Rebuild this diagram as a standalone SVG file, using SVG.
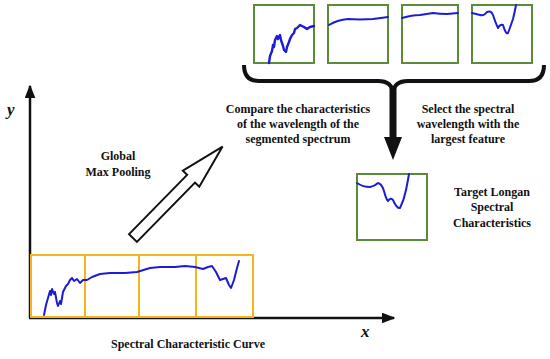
<svg xmlns="http://www.w3.org/2000/svg" width="550" height="359" viewBox="0 0 550 359">
<style>
.t{font-family:"Liberation Serif","DejaVu Serif","Times New Roman",serif;font-weight:bold;font-size:12px;fill:#111;text-anchor:middle}
.ax{font-family:"Liberation Serif","DejaVu Serif","Times New Roman",serif;font-weight:bold;font-style:italic;font-size:17px;fill:#111}
.gbox{fill:#fff;stroke:#5b8a3a;stroke-width:2}
.obox{fill:none;stroke:#f2b51c;stroke-width:2}
.curve{fill:none;stroke:#1c1cd6;stroke-width:2;stroke-linejoin:round;stroke-linecap:round}
.axis{stroke:#111;stroke-width:2.5;fill:none}
</style>
<defs>
<marker id="ah" viewBox="0 0 10 8" refX="9" refY="4" markerWidth="5.5" markerHeight="4.4" orient="auto" markerUnits="strokeWidth">
<path d="M0,0 L10,4 L0,8 z" fill="#111"/>
</marker>
</defs>
<rect width="550" height="359" fill="#fff"/>

<g id="axes">
<line class="axis" x1="30" y1="318" x2="30" y2="86" marker-end="url(#ah)"/>
<line class="axis" x1="29" y1="318" x2="394" y2="318" marker-end="url(#ah)"/>
<text class="ax" x="7" y="115">y</text>
<text class="ax" x="361" y="337">x</text>
</g>

<g id="spectral-curve">
<rect class="obox" x="31" y="255" width="222" height="62"/>
<line class="obox" x1="85" y1="255" x2="85" y2="317"/>
<line class="obox" x1="139" y1="255" x2="139" y2="317"/>
<line class="obox" x1="196" y1="255" x2="196" y2="317"/>
<path class="curve" d="M44,315 L46,305 L48,298 L50,291 L51,295 L52,289 L54,294 L55,292 L57,303 L58,306 L60,301 L61,304 L63,292 L66,286 L68,284 L70,280 L72,278 L74,281 L77,279 L80,283 L83,280 L87,280 L92,277 L100,274 L110,273 L125,273 L137,272 L150,268 L160,267 L175,267 L185,266 L195,267 L203,269 L208,267 L212,266 L216,272 L220,280 L223,279 L226,278 L229,285 L231,288 L234,280 L237,268 L239,261"/>
<text class="t" x="188" y="348">Spectral Characteristic Curve</text>
</g>

<g id="segment-1">
<rect class="gbox" x="254" y="5" width="60" height="58"/>
<path class="curve" style="stroke-width:2.4" d="M269,63 L270,56 L272,51 L273,45 L274,47 L275,40 L277,36 L278,39 L280,35 L281,40 L283,46 L284,50 L286,52 L287,47 L289,42 L290,39 L292,35 L294,33 L295,29 L297,28 L300,25 L302,26 L304,27 L307,29 L310,27 L314,26"/>
</g>
<g id="segment-2">
<rect class="gbox" x="328" y="5" width="60" height="58"/>
<path class="curve" d="M329,25 Q337,20 348,19 L360,19.5 L373,19 Q381,18 388,17"/>
</g>
<g id="segment-3">
<rect class="gbox" x="402" y="5" width="56" height="58"/>
<path class="curve" d="M402,18 Q412,15 420,15 L433,13 Q440,14 447,14 L458,13"/>
</g>
<g id="segment-4">
<rect class="gbox" x="472" y="5" width="60" height="58"/>
<path class="curve" d="M472,13 Q476,14 480,15 Q484,16 487,12 Q491,10 493,15 Q496,24 498,28 Q500,24 503,25 Q506,35 508,33 Q511,25 513,19 Q515,11 516,5"/>
</g>

<g id="connectors">
<path d="M244,65 Q244,81 259,81 L378,81 Q392,81 393,93 Q394,81 408,81 L529,81 Q544,81 544,65" fill="none" stroke="#111" stroke-width="4"/>
<path d="M389.5,88 L396.5,88 L396.5,137 L402,137 L393,160 L384,137 L389.5,137 z" fill="#111"/>
<polygon points="0,-5.5 83,-5.5 83,-11.5 128,0 83,11.5 83,5.5 0,5.5" transform="translate(133,238) rotate(-45.6)" fill="#fff" stroke="#111" stroke-width="2"/>
</g>

<g id="label-pooling">
<text class="t" x="118" y="160">Global</text>
<text class="t" x="118" y="176">Max Pooling</text>
</g>

<g id="label-compare">
<text class="t" x="298" y="113">Compare the characteristics</text>
<text class="t" x="298" y="128">of the wavelength of the</text>
<text class="t" x="298" y="143">segmented spectrum</text>
</g>

<g id="label-select">
<text class="t" x="468" y="113">Select the spectral</text>
<text class="t" x="468" y="128">wavelength with the</text>
<text class="t" x="468" y="143">largest feature</text>
</g>

<g id="target">
<rect class="gbox" x="357" y="174" width="70" height="66"/>
<path class="curve" d="M357,183 Q363,187 370,187 Q375,186 378,183 Q382,184 384,191 Q386,199 388,201 Q391,197 393,200 Q397,209 400,208 Q404,200 406,190 Q408,180 409,174"/>
<text class="t" x="492" y="196">Target Longan</text>
<text class="t" x="492" y="211">Spectral</text>
<text class="t" x="492" y="227">Characteristics</text>
</g>
</svg>
